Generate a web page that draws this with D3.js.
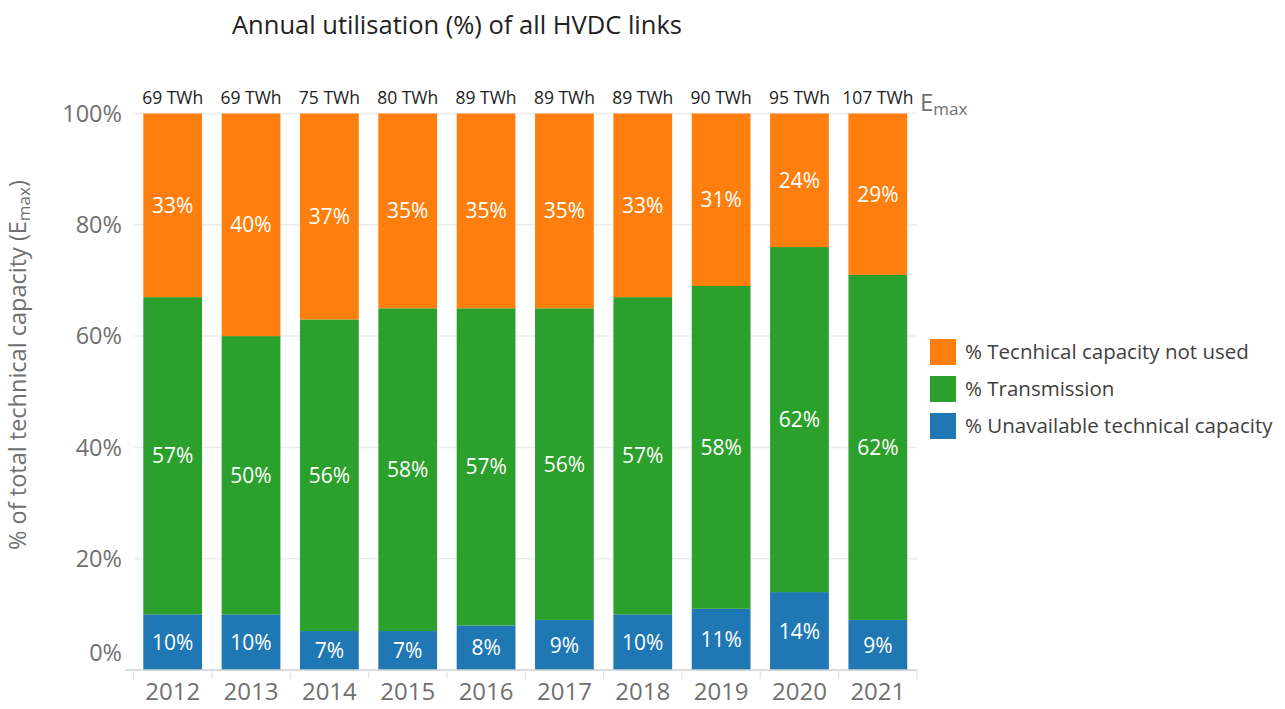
<!DOCTYPE html>
<html><head><meta charset="utf-8">
<script src="https://cdn.jsdelivr.net/npm/d3@7"></script>
<style>body{margin:0;background:#fff;}svg{font-family:"Open Sans",sans-serif;}</style>
</head><body>
<svg id="c" width="1285" height="709"></svg>
<script>
const years = ["2012","2013","2014","2015","2016","2017","2018","2019","2020","2021"];
const unavailable = [10,10,7,7,8,9,10,11,14,9];
const transmission = [57,50,56,58,57,56,57,58,62,62];
const notUsed = [33,40,37,35,35,35,33,31,24,29];
const emaxLabels = ["69 TWh","69 TWh","75 TWh","80 TWh","89 TWh","89 TWh","89 TWh","90 TWh","95 TWh","107 TWh"];
const yTicks = [0,20,40,60,80,100];
const seriesNames = ["% Unavailable technical capacity","% Transmission","% Tecnhical capacity not used"];
const colors = ["#1f77b4","#2ca02c","#ff7f0e"];

const svg = d3.select("#c");
const x = d3.scaleBand().domain(years).range([133.5,917]).paddingInner(0.25).paddingOuter(0.125);
const y = d3.scaleLinear().domain([0,100]).range([670,113.5]);

const rows = years.map((yr,i)=>({year:yr, u:unavailable[i], t:transmission[i], n:notUsed[i]}));
const stack = d3.stack().keys(["u","t","n"])(rows);

// grid
svg.append("g").selectAll("line").data(yTicks.filter(d=>d>0)).join("line")
  .attr("x1",133.5).attr("x2",917).attr("y1",d=>y(d)).attr("y2",d=>y(d))
  .attr("stroke","#ececec").attr("stroke-width",1.5);

// y tick labels
svg.append("g").selectAll("text").data(yTicks).join("text")
  .attr("x",122).attr("y",d=>d===0? y(d)-17 : y(d)).attr("dy","0.35em")
  .attr("text-anchor","end").attr("fill","#707070").style("font-size","23.5px")
  .text(d=>d+"%");

// bars
const g = svg.append("g");
stack.forEach((s,k)=>{
  g.append("g").selectAll("rect").data(s).join("rect")
    .attr("x",d=>x(d.data.year)).attr("width",x.bandwidth())
    .attr("y",d=>y(d[1])).attr("height",d=>y(d[0])-y(d[1]))
    .attr("fill",colors[k]);
  g.append("g").selectAll("text").data(s).join("text")
    .attr("x",d=>x(d.data.year)+x.bandwidth()/2)
    .attr("y",d=>(y(d[0])+y(d[1]))/2).attr("dy","0.36em")
    .attr("text-anchor","middle").attr("fill","#fff").style("font-size","21px")
    .text(d=>Math.round(d[1]-d[0])+"%");
});

// x axis
const xa = svg.append("g").attr("transform","translate(0,670)");
xa.append("line").attr("x1",125).attr("x2",917).attr("stroke","#cfcfcf").attr("stroke-width",1.5);
const bounds = years.map(yr=>x(yr)-x.step()*x.paddingInner()/2).concat([917]);
xa.selectAll("line.t").data(bounds).join("line").attr("class","t")
  .attr("x1",d=>d).attr("x2",d=>d).attr("y1",0).attr("y2",9)
  .attr("stroke","#e3e3e3").attr("stroke-width",1.2);
xa.selectAll("text").data(years).join("text")
  .attr("x",d=>x(d)+x.bandwidth()/2).attr("y",22).attr("dy","0.35em")
  .attr("text-anchor","middle").attr("fill","#707070").style("font-size","24px")
  .text(d=>d);

// Emax labels
svg.append("g").selectAll("text").data(emaxLabels).join("text")
  .attr("x",(d,i)=>x(years[i])+x.bandwidth()/2).attr("y",98).attr("dy","0.35em")
  .attr("text-anchor","middle").attr("fill","#222").style("font-size","17.5px")
  .text(d=>d);
const em = svg.append("text").attr("x",920).attr("y",111).attr("fill","#707070").style("font-size","24px");
em.append("tspan").text("E");
em.append("tspan").attr("dy",4).style("font-size","17px").text("max");

// title
svg.append("text").attr("x",232).attr("y",25).attr("dy","0.35em").attr("fill","#222")
  .style("font-size","25.5px").text("Annual utilisation (%) of all HVDC links");

// y title
const yt = svg.append("text").attr("transform","translate(26,365) rotate(-90)")
  .attr("text-anchor","middle").attr("fill","#707070").style("font-size","23.5px");
yt.append("tspan").text("% of total technical capacity (E");
yt.append("tspan").attr("dy",4).style("font-size","17px").text("max");
yt.append("tspan").attr("dy",-4).text(")");

// legend
const legOrder = [2,1,0];
const lg = svg.append("g").selectAll("g").data(legOrder).join("g")
  .attr("transform",(d,i)=>`translate(930,${339+i*37})`);
lg.append("rect").attr("width",26).attr("height",26).attr("fill",d=>colors[d]);
lg.append("text").attr("x",35).attr("y",13).attr("dy","0.35em").attr("fill","#404040")
  .style("font-size","20.5px").text(d=>seriesNames[d]);
</script>
</body></html>
